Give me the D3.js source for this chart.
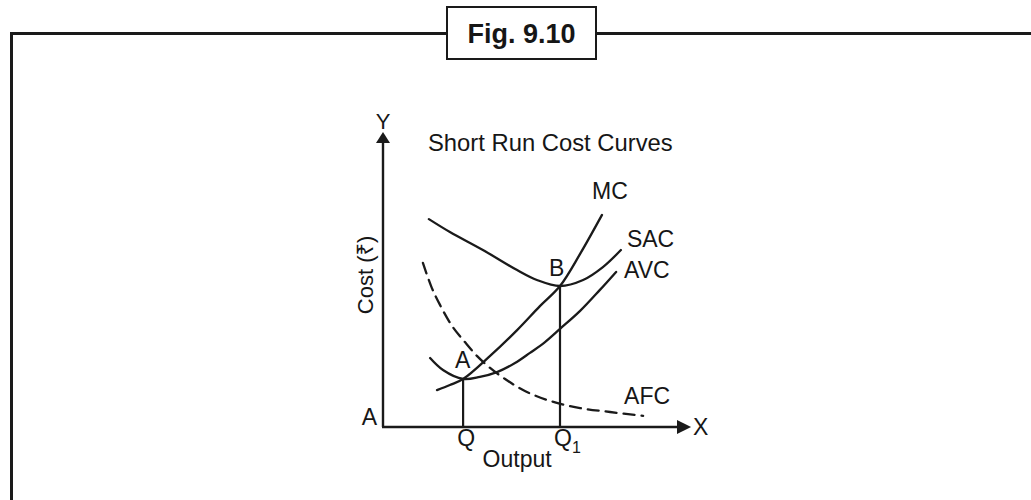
<!DOCTYPE html>
<html><head><meta charset="utf-8">
<script src="https://cdn.jsdelivr.net/npm/d3@7"></script>
<style>body{margin:0;background:#fff}svg{display:block}text{font-family:"Liberation Sans",Arial,"Noto Sans","DejaVu Sans",sans-serif;fill:#161616}</style>
</head><body><svg id="c" width="1031" height="500"></svg>
<script>
// Curve data (output units, cost units)
const sacX = [15.3, 22.3, 33.3, 44.7, 51.3, 59, 66.7, 73.3, 79.3];
const sacY = [69.3, 65, 59, 52.3, 49, 47, 49, 53.3, 59];
const avcX = [15.7, 20, 26.7, 32.3, 38, 44, 49, 54, 59, 65.7, 72.3, 77.7];
const avcY = [23, 19, 16, 16.7, 18.3, 21.3, 24.7, 28.3, 32.7, 38.7, 45.7, 51.7];
const mcX = [18, 22.3, 26.7, 35.7, 44.7, 52.3, 59, 65.7, 73];
const mcY = [12.3, 14, 16, 23.7, 32.3, 40.3, 47, 57.7, 70.7];
const afcX = [13.3, 16.3, 19, 23, 27.3, 31.3, 35.7, 40.7, 47.3, 55.7, 65.7, 75.7, 86.7];
const afcY = [54.7, 46.3, 40.7, 33.7, 28.3, 23.7, 19.7, 16, 12, 8.7, 6.3, 5, 3.7];
const qX = 26.7, q1X = 59;
const curveNames = ["MC", "SAC", "AVC", "AFC"];
const title = "Short Run Cost Curves";
const figLabel = "Fig. 9.10";

const svg = d3.select("#c");
const x = d3.scaleLinear().domain([0, 100]).range([383, 683]);
const y = d3.scaleLinear().domain([0, 100]).range([427, 127]);
const ink = "#1a1a1a";

// Frame with figure label box
svg.append("path").attr("d", "M11.5,500 V33.5 H1031").attr("fill", "none").attr("stroke", ink).attr("stroke-width", 3);
svg.append("rect").attr("x", 447).attr("y", 7).attr("width", 149).attr("height", 52)
  .attr("fill", "#fff").attr("stroke", ink).attr("stroke-width", 2);
svg.append("text").attr("x", 521.5).attr("y", 43).attr("text-anchor", "middle")
  .attr("font-size", 27).attr("font-weight", "bold").text(figLabel);

// Axes
const axisG = svg.append("g");
axisG.append("line").attr("x1", x(0)).attr("y1", y(0)).attr("x2", x(0)).attr("y2", y(96))
  .attr("stroke", ink).attr("stroke-width", 2.4);
axisG.append("line").attr("x1", x(0) - 1).attr("y1", y(0)).attr("x2", x(98)).attr("y2", y(0))
  .attr("stroke", ink).attr("stroke-width", 2.4);
axisG.append("path").attr("d", `M${x(0)},${y(98.3)} L${x(0)-7},${y(94.7)} L${x(0)+7},${y(94.7)} Z`).attr("fill", ink);
axisG.append("path").attr("d", `M${x(102.7)},${y(0)} L${x(98)},${y(0)-7} L${x(98)},${y(0)+7} Z`).attr("fill", ink);
svg.append("text").attr("x", x(0)).attr("y", y(99.3)).attr("text-anchor", "middle").attr("font-size", 22).text("Y");
svg.append("text").attr("x", x(103.3)).attr("y", y(0) + 8).attr("font-size", 23).text("X");
svg.append("text").attr("x", x(0) - 6).attr("y", y(0) - 2).attr("text-anchor", "end").attr("font-size", 23).text("A");

// Axis titles
svg.append("text").attr("transform", `translate(${x(0) - 10},${y(50.7)}) rotate(-90)`)
  .attr("text-anchor", "middle").attr("font-size", 22).text("Cost (₹)");
svg.append("text").attr("x", x(44.7)).attr("y", y(0) + 40).attr("text-anchor", "middle").attr("font-size", 23).text("Output");
svg.append("text").attr("x", 428).attr("y", 151).attr("font-size", 23.8).text(title);

// Vertical drop lines
const line = d3.line().x(d => x(d[0])).y(d => y(d[1])).curve(d3.curveCatmullRom.alpha(0.5));
const zip = (a, b) => a.map((v, i) => [v, b[i]]);
svg.append("line").attr("x1", x(qX)).attr("x2", x(qX)).attr("y1", y(0)).attr("y2", y(avcY[2]))
  .attr("stroke", ink).attr("stroke-width", 2.2);
svg.append("line").attr("x1", x(q1X)).attr("x2", x(q1X)).attr("y1", y(0)).attr("y2", y(sacY[5]))
  .attr("stroke", ink).attr("stroke-width", 2.2);

// Curves
const series = [
  {name: "MC", pts: zip(mcX, mcY), dash: null},
  {name: "SAC", pts: zip(sacX, sacY), dash: null},
  {name: "AVC", pts: zip(avcX, avcY), dash: null},
  {name: "AFC", pts: zip(afcX, afcY), dash: "11,7"}
];
svg.append("g").selectAll("path").data(series).join("path")
  .attr("d", d => line(d.pts)).attr("fill", "none").attr("stroke", ink)
  .attr("stroke-width", 2.3).attr("stroke-linecap", "round")
  .attr("stroke-dasharray", d => d.dash);

// Curve labels
const labelOffsets = {MC: [-10, -16], SAC: [6, -3], AVC: [8, 6], AFC: [-19, -12]};
svg.append("g").selectAll("text").data(series).join("text")
  .attr("x", d => x(d.pts[d.pts.length - 1][0]) + labelOffsets[d.name][0])
  .attr("y", d => y(d.pts[d.pts.length - 1][1]) + labelOffsets[d.name][1])
  .attr("font-size", 23).text(d => d.name);

// Point labels
svg.append("text").attr("x", x(qX) - 8).attr("y", y(avcY[2]) - 11).attr("font-size", 23).text("A");
svg.append("text").attr("x", x(q1X) - 11).attr("y", y(sacY[5]) - 10).attr("font-size", 23).text("B");
svg.append("text").attr("x", x(qX) + 3).attr("y", y(0) + 19).attr("text-anchor", "middle").attr("font-size", 23).text("Q");
const q1 = svg.append("text").attr("x", x(q1X) - 6).attr("y", y(0) + 19).attr("font-size", 23);
q1.append("tspan").text("Q");
q1.append("tspan").attr("font-size", 16).attr("dy", 7).text("1");
</script></body></html>
